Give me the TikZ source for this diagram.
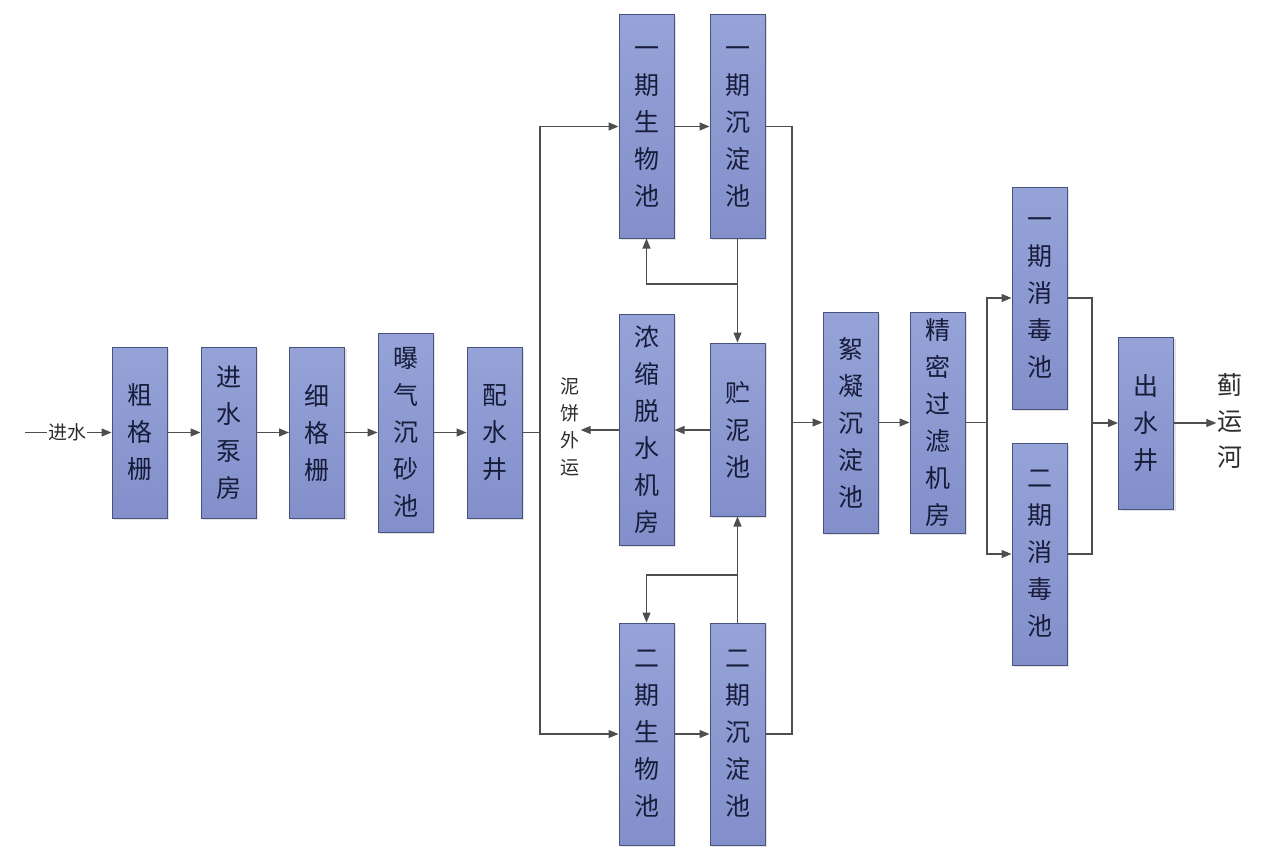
\documentclass[tikz,border=0pt]{standalone}
\usepackage{fontspec}
\newfontfamily\cjk{Noto Sans CJK SC}
\usetikzlibrary{arrows.meta,shadows}
\definecolor{boxtop}{RGB}{150,163,216}
\definecolor{boxbot}{RGB}{130,143,202}
\definecolor{boxline}{RGB}{72,82,122}
\definecolor{linec}{RGB}{78,78,78}
\definecolor{txt}{RGB}{22,28,58}
\definecolor{lbltxt}{RGB}{45,45,45}
\begin{document}
\begin{tikzpicture}[x=1pt,y=-1pt,
 box/.style={draw=boxline, line width=1pt, top color=boxtop, bottom color=boxbot,
   minimum width=55pt, inner sep=0pt, align=center,
   font=\cjk\fontsize{25}{37}\selectfont, text=txt,
   drop shadow={opacity=0.22,shadow xshift=2pt,shadow yshift=-2pt}},
 flow/.style={draw=linec, line width=1.2pt, -{Triangle[length=10pt,width=8pt]}},
 ln/.style={draw=linec, line width=1.2pt},
 lbl/.style={font=\cjk\fontsize{19}{27}\selectfont, text=lbltxt, align=center, inner sep=1pt},
 lblb/.style={font=\cjk\fontsize{25}{36}\selectfont, text=lbltxt, align=center, inner sep=1pt}]
\useasboundingbox[fill=white] (0,0) rectangle (1280,867);

% main boxes
\node[box, minimum height=171pt] (cgs) at (139.5,432.5) {粗\\格\\栅};
\node[box, minimum height=171pt] (jsbf) at (228.5,432.5) {进\\水\\泵\\房};
\node[box, minimum height=171pt] (xgs) at (317,432.5) {细\\格\\栅};
\node[box, minimum height=199pt] (pqcs) at (405.5,432.5) {曝\\气\\沉\\砂\\池};
\node[box, minimum height=171pt] (psj) at (494.5,432.5) {配\\水\\井};

\node[box, minimum height=223pt] (swa) at (646.5,126.5) {一\\期\\生\\物\\池};
\node[box, minimum height=223pt] (cda) at (737.5,126.5) {一\\期\\沉\\淀\\池};
\node[box, minimum height=231pt] (nsj) at (646.5,429.5) {浓\\缩\\脱\\水\\机\\房};
\node[box, minimum height=173pt] (zn) at (737.5,429.5) {贮\\泥\\池};
\node[box, minimum height=222pt] (swb) at (646.5,734) {二\\期\\生\\物\\池};
\node[box, minimum height=222pt] (cdb) at (737.5,734) {二\\期\\沉\\淀\\池};

\node[box, minimum height=221pt] (xn) at (850.5,422.5) {絮\\凝\\沉\\淀\\池};
\node[box, minimum height=221pt] (jm) at (937.5,422.5) {精\\密\\过\\滤\\机\\房};
\node[box, minimum height=222pt] (xda) at (1039.5,298) {一\\期\\消\\毒\\池};
\node[box, minimum height=222pt] (xdb) at (1039.5,554) {二\\期\\消\\毒\\池};
\node[box, minimum height=172pt] (csj) at (1146,423) {出\\水\\井};

% labels
\coordinate (inl) at (25,432.5);
\node[lbl] (js) at (67,432.5) {进水};
\node[lbl] (nb) at (570,427) {泥\\饼\\外\\运};
\node[lblb] (jyh) at (1230,421) {蓟\\运\\河};

% junction points
\coordinate (sp) at (540,432.5);
\coordinate (mg) at (792,422.5);
\coordinate (ba) at (737.5,284);
\coordinate (bb) at (737.5,575);
\coordinate (s2) at (987,422.5);
\coordinate (m2) at (1092,423);

% main line
\draw[ln] (inl) -- (js.west);
\draw[flow] (js.east) -- (cgs.west);
\draw[flow] (cgs.east) -- (jsbf.west);
\draw[flow] (jsbf.east) -- (xgs.west);
\draw[flow] (xgs.east) -- (pqcs.west);
\draw[flow] (pqcs.east) -- (psj.west);
\draw[ln] (psj.east) -- (sp);
\draw[flow] (sp) |- (swa.west);
\draw[flow] (sp) |- (swb.west);
\draw[flow] (swa.east) -- (cda.west);
\draw[flow] (swb.east) -- (cdb.west);
\draw[ln] (cda.east) -| (mg);
\draw[ln] (cdb.east) -| (mg);
\draw[flow] (mg) -- (xn.west);
\draw[flow] (xn.east) -- (jm.west);
\draw[ln] (jm.east) -- (s2);
\draw[flow] (s2) |- (xda.west);
\draw[flow] (s2) |- (xdb.west);
\draw[ln] (xda.east) -| (m2);
\draw[ln] (xdb.east) -| (m2);
\draw[flow] (m2) -- (csj.west);
\draw[flow] (csj.east) -- (csj.east -| jyh.west);

% sludge
\draw[flow] (cda.south) -- (zn.north);
\draw[flow] (ba) -| (swa.south);
\draw[flow] (cdb.north) -- (zn.south);
\draw[flow] (bb) -| (swb.north);
\draw[flow] (zn.west |- 0,430) -- (nsj.east |- 0,430);
\draw[flow] (nsj.west |- 0,430) -- (nb.east |- 0,430);
\end{tikzpicture}
\end{document}
